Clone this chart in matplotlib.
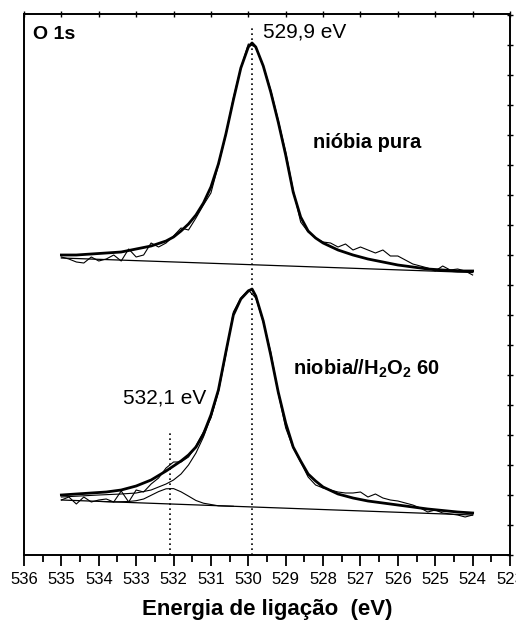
import numpy as np
import matplotlib
matplotlib.use("Agg")
import matplotlib.pyplot as plt

plt.rcParams['font.family'] = ['Liberation Sans', 'DejaVu Sans']
plt.rcParams['mathtext.fontset'] = 'custom'
plt.rcParams['mathtext.rm'] = 'Liberation Sans'
plt.rcParams['mathtext.bf'] = 'Liberation Sans:bold'

# ---------------------------------------------------------------- data
# raw spectra, binding energy 535.0 -> 524.0 eV in 0.2 eV steps (a.u.)
raw_energy = [535.0, 534.8, 534.6, 534.4, 534.2, 534.0, 533.8, 533.6, 533.4, 533.2,
              533.0, 532.8, 532.6, 532.4, 532.2, 532.0, 531.8, 531.6, 531.4, 531.2,
              531.0, 530.8, 530.6, 530.4, 530.2, 530.0, 529.8, 529.6, 529.4, 529.2,
              529.0, 528.8, 528.6, 528.4, 528.2, 528.0, 527.8, 527.6, 527.4, 527.2,
              527.0, 526.8, 526.6, 526.4, 526.2, 526.0, 525.8, 525.6, 525.4, 525.2,
              525.0, 524.8, 524.6, 524.4, 524.2, 524.0]

raw_pura = [298, 296, 293, 292, 298, 294, 296, 300, 294, 306,
            298, 300, 312, 308, 312, 319, 327, 325, 337, 350,
            362, 390, 420, 457, 487, 511, 508, 489, 465, 435,
            403, 365, 333, 323, 317, 313, 312, 308, 311, 305,
            308, 305, 302, 305, 299, 299, 295, 291, 289, 287,
            284, 289, 285, 286, 284, 280]

raw_h2o2 = [55, 58, 51, 58, 53, 55, 56, 53, 64, 53,
            65, 63, 71, 77, 87, 93, 93, 98, 109, 123,
            137, 163, 200, 243, 257, 265, 257, 233, 203, 162,
            127, 107, 93, 78, 70, 67, 65, 63, 62, 62,
            63, 58, 61, 57, 55, 54, 52, 50, 47, 43,
            45, 42, 41, 40, 38, 40]

# fitted envelopes
fit_energy = [535.0, 534.6, 534.2, 533.8, 533.4, 533.0, 532.6, 532.2, 532.0, 531.8,
              531.6, 531.4, 531.2, 531.0, 530.8, 530.6, 530.4, 530.2, 530.0, 529.9,
              529.8, 529.6, 529.4, 529.2, 529.0, 528.8, 528.6, 528.4, 528.2, 528.0,
              527.6, 527.2, 526.8, 526.4, 526.0, 525.6, 525.2, 524.8, 524.4, 524.0]

fit_pura = [300, 300, 301, 302, 303, 306, 309, 314, 318, 324,
            331, 340, 352, 368, 391, 421, 455, 487, 508, 512,
            508, 489, 463, 433, 400, 363, 338, 324, 317, 312,
            305, 300, 296, 293, 290, 288, 286, 285, 284, 284]

fit_h2o2 = [60, 61, 62, 63, 65, 69, 75, 84, 89, 94,
            100, 108, 121, 140, 165, 203, 240, 256, 264, 266,
            259, 234, 200, 163, 132, 108, 94, 81, 74, 68,
            61, 57, 54, 52, 50, 48, 46, 44.5, 43, 42]

# main O 1s component of niobia//H2O2 (high energy side, where it leaves the envelope)
comp_main_energy = [535.0, 534.0, 533.4, 533.0, 532.6, 532.2, 532.0, 531.8, 531.6,
                    531.4, 531.2, 531.0, 530.8]
comp_main_h2o2 = [58, 60, 61, 62, 65, 71, 75, 81, 90, 102, 118, 138, 164]

# second component at 532,1 eV
comp2_energy = [534.0, 533.6, 533.2, 533.0, 532.8, 532.6, 532.4, 532.2, 532.0, 531.8,
                531.6, 531.4, 531.2, 531.0, 530.8, 530.4]
comp2_h2o2 = [53.6, 53.1, 53.5, 54.3, 56.0, 59.7, 63.4, 66.2, 66.4, 63.2,
              58.9, 54.5, 51.8, 50.5, 49.2, 48.7]

# backgrounds (end points)
bg_energy = [535.0, 524.0]
bg_pura = [297, 282.5]
bg_h2o2 = [55, 40]

peak_main = 529.9
peak_oh = 532.1

# ---------------------------------------------------------------- plot
fig = plt.figure(figsize=(5.16, 6.24), dpi=100)
ax = fig.add_axes([24 / 516, 1 - 555 / 624, 486 / 516, 541.5 / 624])

ax.plot(raw_energy, raw_pura, color='black', lw=0.8)
ax.plot(raw_energy, raw_h2o2, color='black', lw=0.8)
ax.plot(bg_energy, bg_pura, color='black', lw=0.9)
ax.plot(bg_energy, bg_h2o2, color='black', lw=0.9)
ax.plot(comp_main_energy, comp_main_h2o2, color='black', lw=0.8)
ax.plot(comp2_energy, comp2_h2o2, color='black', lw=0.8)
ax.plot(fit_energy, fit_pura, color='black', lw=2.0)
ax.plot(fit_energy, fit_h2o2, color='black', lw=2.0)

ax.plot([peak_main, peak_main], [0, 527], color='black', lw=1.2, ls=(0, (1, 2)))
ax.plot([peak_oh, peak_oh], [0, 122], color='black', lw=1.2, ls=(0, (1, 2)))

ax.text(535.75, 516, 'O 1s', fontsize=14, fontweight='bold', va='baseline')
ax.text(529.61, 517, '529,9 eV', fontsize=15, va='baseline')
ax.text(528.27, 407, 'nióbia pura', fontsize=14.5, fontweight='bold', va='baseline')
ax.text(528.80, 180, r'niobia//H$_\mathbf{2}$O$_\mathbf{2}$ 60', fontsize=14.5,
        fontweight='bold', va='baseline')
ax.text(533.35, 152, '532,1 eV', fontsize=15, va='baseline')

ax.set_xlim(536, 523)
ax.set_ylim(0, 541.5)
ax.set_xticks(np.arange(536, 522, -1))
ax.set_xticks(np.arange(535.5, 523, -1), minor=True)
ax.set_yticks(np.arange(0, 541, 30))

ax.tick_params(axis='x', which='major', direction='out', length=8, width=1.3,
               labelsize=12, pad=4, top=True)
ax.tick_params(axis='x', which='minor', direction='out', length=5, width=1.3, top=False)
ax.tick_params(axis='y', left=False, labelleft=False, right=True,
               direction='inout', length=4, width=1.0)
# short ticks on the top frame
for t in ax.xaxis.get_major_ticks():
    t.tick2line.set_marker('|')
    t.tick2line.set_markersize(4)
    t.tick2line.set_markeredgewidth(1.0)
for side in ['left', 'bottom', 'top', 'right']:
    ax.spines[side].set_linewidth(1.4)

ax.set_xlabel('Energia de ligação  (eV)', fontsize=16, fontweight='bold', labelpad=9)

fig.savefig('out.png', dpi=100)
